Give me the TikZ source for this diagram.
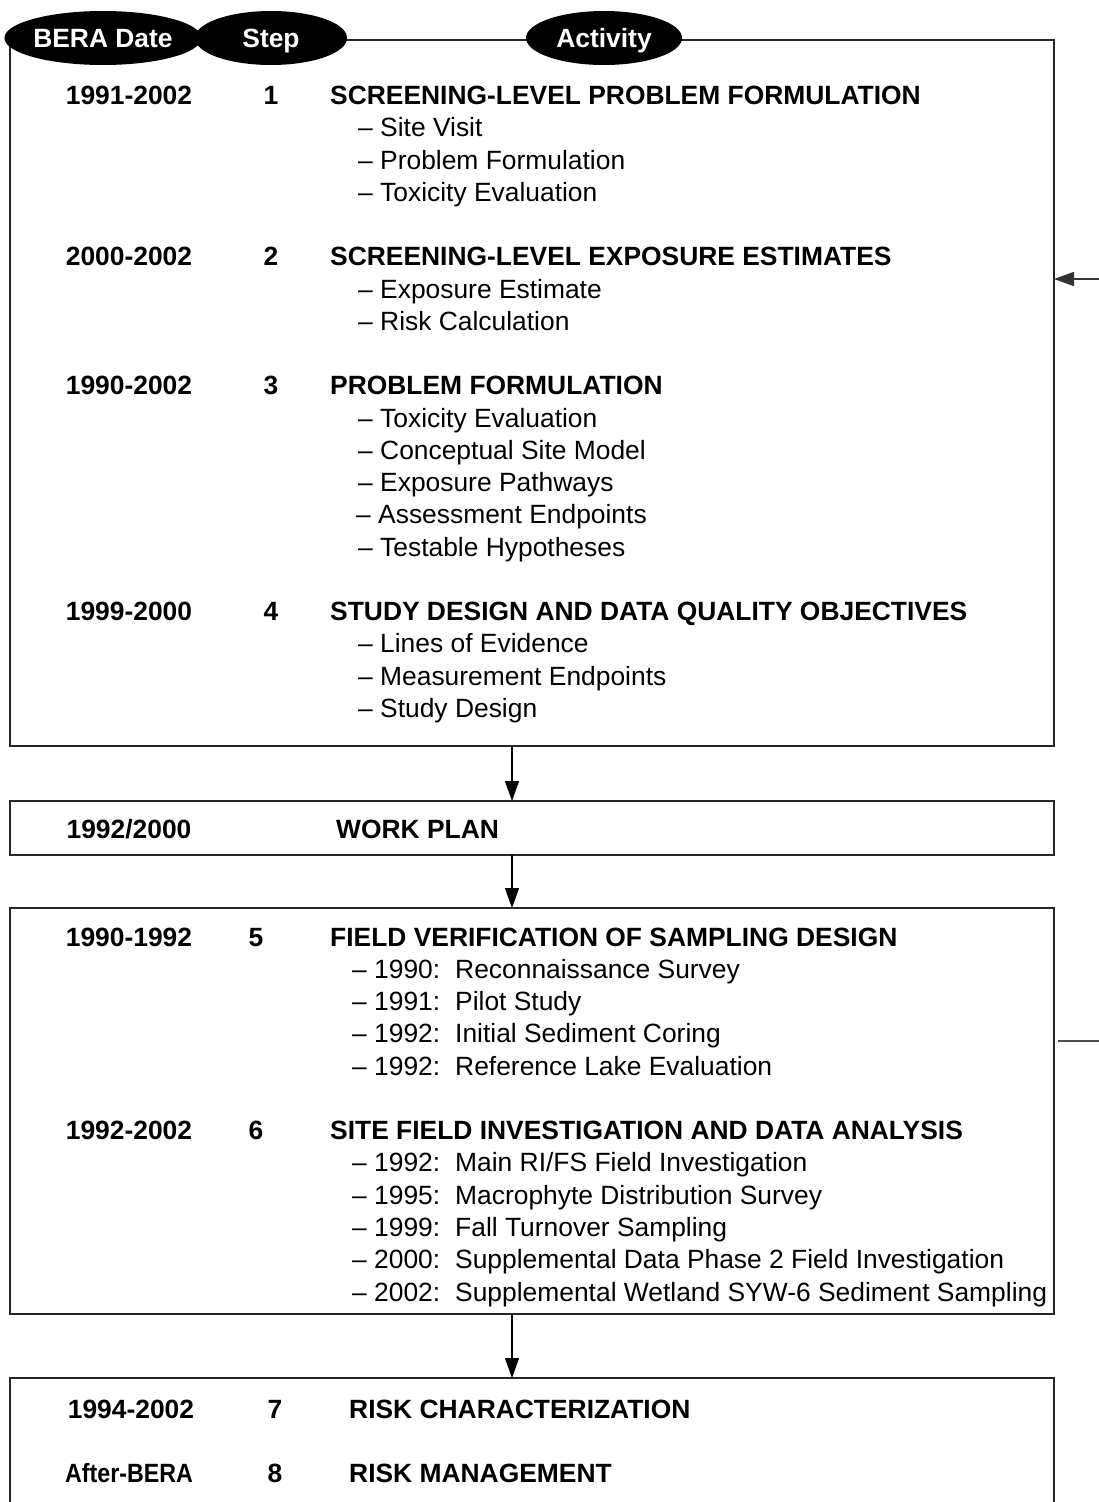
\documentclass[tikz,border=0pt]{standalone}
\usepackage{fontspec}
\setmainfont{Liberation Sans}
\usetikzlibrary{shapes.geometric,arrows.meta}
\begin{document}
\begin{tikzpicture}[x=1pt,y=-1pt,
  box/.style={draw=black!85,line width=2.4pt,inner sep=0pt,outer sep=0pt},
  oval/.style={ellipse,fill=black,inner sep=0pt,text=white,text height=19pt,text depth=0pt,font=\fontsize{26.4}{30}\selectfont\bfseries},
  hd/.style={anchor=base west,inner sep=0pt,font=\fontsize{26.4}{30}\selectfont\bfseries},
  dt/.style={anchor=base,inner sep=0pt,font=\fontsize{26.4}{30}\selectfont\bfseries},
  it/.style={anchor=base west,inner sep=0pt,font=\fontsize{26.4}{30}\selectfont},
  arr/.style={line width=1.4pt,-{Triangle[width=14pt,length=20pt]}}]
\useasboundingbox (0,0) rectangle (1099,1502);
% boxes
\node[box,minimum width=1044pt,minimum height=706pt] (b1) at (532,393) {};
\node[box,minimum width=1044pt,minimum height=54pt] (b2) at (532,828) {};
\node[box,minimum width=1044pt,minimum height=406pt] (b3) at (532,1111) {};
\node[box,minimum width=1044pt,minimum height=160pt] (b4) at (532,1458) {};
% header ovals
\node[oval,minimum width=195pt,minimum height=54pt] (o1) at (103,38) {BERA Date};
\node[oval,minimum width=152pt,minimum height=54pt] (o2) at (271,38) {Step};
\node[oval,minimum width=156pt,minimum height=54pt] (o3) at (604,38) {Activity};
% connectors
\coordinate (ax) at (512,0);
\draw[arr] (b1.south -| ax) -- (b2.north -| ax);
\draw[arr] (b2.south -| ax) -- (b3.north -| ax);
\draw[arr] (b3.south -| ax) -- (b4.north -| ax);
\coordinate (fbin) at (1099,279);
\coordinate (fbout) at (1099,1041);
\draw[arr,draw=black!80,line width=1.7pt] (fbin) -- (b1.east |- fbin);
\draw[draw=black!70,line width=1.7pt,shorten <=4pt] (b3.east |- fbout) -- (fbout);
% box 1
\node[dt] (d1) at (129,104) {1991-2002};
\node[dt] (s1) at (271,104) {1};
\node[hd] (a1) at (330,104) {SCREENING-LEVEL PROBLEM FORMULATION};
\node[it] (a1a) at (358,136) {– Site Visit};
\node[it] (a1b) at (358,169) {– Problem Formulation};
\node[it] (a1c) at (358,201) {– Toxicity Evaluation};
\node[dt] (d2) at (129,265) {2000-2002};
\node[dt] (s2) at (271,265) {2};
\node[hd] (a2) at (330,265) {SCREENING-LEVEL EXPOSURE ESTIMATES};
\node[it] (a2a) at (358,298) {– Exposure Estimate};
\node[it] (a2b) at (358,330) {– Risk Calculation};
\node[dt] (d3) at (129,394) {1990-2002};
\node[dt] (s3) at (271,394) {3};
\node[hd] (a3) at (330,394) {PROBLEM FORMULATION};
\node[it] (a3a) at (358,427) {– Toxicity Evaluation};
\node[it] (a3b) at (358,459) {– Conceptual Site Model};
\node[it] (a3c) at (358,491) {– Exposure Pathways};
\node[it] (a3d) at (356,523) {– Assessment Endpoints};
\node[it] (a3e) at (358,556) {– Testable Hypotheses};
\node[dt] (d4) at (129,620) {1999-2000};
\node[dt] (s4) at (271,620) {4};
\node[hd] (a4) at (330,620) {STUDY DESIGN AND DATA QUALITY OBJECTIVES};
\node[it] (a4a) at (358,652) {– Lines of Evidence};
\node[it] (a4b) at (358,685) {– Measurement Endpoints};
\node[it] (a4c) at (358,717) {– Study Design};
% box 2
\node[dt] (dw) at (129,838) {1992/2000};
\node[hd] (aw) at (336,838) {WORK PLAN};
% box 3
\node[dt] (d5) at (129,946) {1990-1992};
\node[dt] (s5) at (256,946) {5};
\node[hd] (a5) at (330,946) {FIELD VERIFICATION OF SAMPLING DESIGN};
\node[it] (y5a) at (352,978) {– 1990:};
\node[it] (a5a) at (455,978) {Reconnaissance Survey};
\node[it] (y5b) at (352,1010) {– 1991:};
\node[it] (a5b) at (455,1010) {Pilot Study};
\node[it] (y5c) at (352,1042) {– 1992:};
\node[it] (a5c) at (455,1042) {Initial Sediment Coring};
\node[it] (y5d) at (352,1075) {– 1992:};
\node[it] (a5d) at (455,1075) {Reference Lake Evaluation};
\node[dt] (d6) at (129,1139) {1992-2002};
\node[dt] (s6) at (256,1139) {6};
\node[hd] (a6) at (330,1139) {SITE FIELD INVESTIGATION AND DATA ANALYSIS};
\node[it] (y6a) at (352,1171) {– 1992:};
\node[it] (a6a) at (455,1171) {Main RI/FS Field Investigation};
\node[it] (y6b) at (352,1204) {– 1995:};
\node[it] (a6b) at (455,1204) {Macrophyte Distribution Survey};
\node[it] (y6c) at (352,1236) {– 1999:};
\node[it] (a6c) at (455,1236) {Fall Turnover Sampling};
\node[it] (y6d) at (352,1268) {– 2000:};
\node[it] (a6d) at (455,1268) {Supplemental Data Phase 2 Field Investigation};
\node[it] (y6e) at (352,1301) {– 2002:};
\node[it] (a6e) at (455,1301) {Supplemental Wetland SYW-6 Sediment Sampling};
% box 4
\node[dt] (d7) at (131,1418) {1994-2002};
\node[dt] (s7) at (275,1418) {7};
\node[hd] (a7) at (349,1418) {RISK CHARACTERIZATION};
\node[dt] (d8) at (129,1482) {\scalebox{0.88}[1]{After-BERA}};
\node[dt] (s8) at (275,1482) {8};
\node[hd] (a8) at (349,1482) {RISK MANAGEMENT};
\end{tikzpicture}
\end{document}
